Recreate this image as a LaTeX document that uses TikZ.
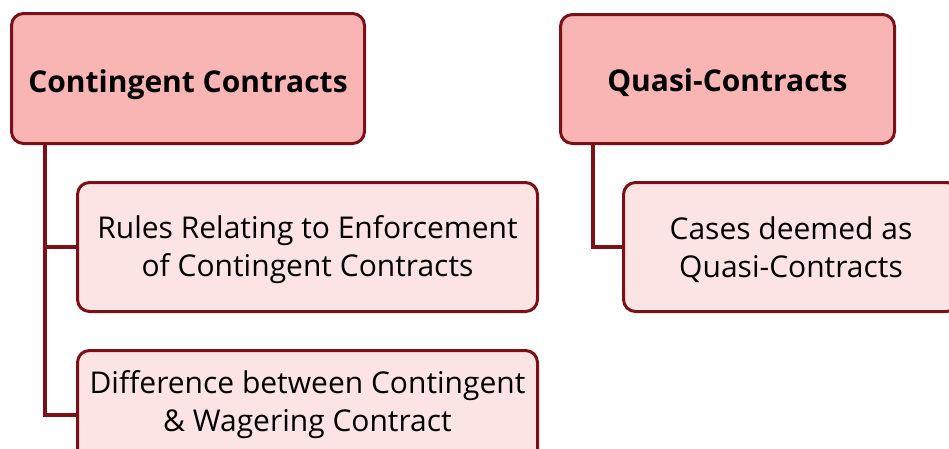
\documentclass[tikz,border=0pt]{standalone}
\usepackage{fontspec}
\setmainfont{Open Sans}
\usetikzlibrary{backgrounds}
\definecolor{bordercol}{HTML}{7A1018}
\definecolor{headfill}{HTML}{F9B4B4}
\definecolor{childfill}{HTML}{FDE4E4}
\tikzset{
  headbox/.style={draw=bordercol, fill=headfill, line width=3pt, rounded corners=12pt, inner sep=0pt},
  childbox/.style={draw=bordercol, fill=childfill, line width=3pt, rounded corners=12pt, inner sep=0pt},
  headtext/.style={inner sep=0pt, anchor=base, font=\fontsize{30}{38.5}\selectfont\bfseries},
  childtext/.style={inner sep=0pt, align=center, font=\fontsize{30}{38.5}\selectfont},
  conn/.style={draw=bordercol, line width=4pt}
}
\begin{document}
\begin{tikzpicture}[x=1pt, y=-1pt]
\useasboundingbox (0,0) rectangle (949,448);
\clip (0,0) rectangle (949,448);
% boxes
\node[headbox, minimum width=353pt, minimum height=130pt] (t1) at (188,78.5) {};
\node[headbox, minimum width=334pt, minimum height=129pt] (t2) at (727.5,79) {};
\node[childbox, minimum width=460pt, minimum height=129pt] (c1) at (307.5,247) {};
\node[childbox, minimum width=460pt, minimum height=129pt] (c2) at (307.5,415) {};
\node[childbox, minimum width=335pt, minimum height=129pt] (c3) at (791,247) {};
% texts
\node[headtext, yshift=-13.5pt] (t1t) at (t1.center) {Contingent Contracts};
\node[headtext, yshift=-12.5pt] (t2t) at (t2.center) {Quasi-Contracts};
\node[childtext, yshift=-2.5pt] (c1t) at (c1.center) {Rules Relating to Enforcement\\of Contingent Contracts};
\node[childtext, yshift=10.5pt] (c2t) at (c2.center) {Difference between Contingent\\\& Wagering Contract};
\node[childtext, yshift=-2.5pt] (c3t) at (c3.center) {Cases deemed as\\Quasi-Contracts};
% connectors
\begin{scope}[on background layer]
\draw[conn] ([xshift=34.5pt]t1.south west) |- (c1.west);
\draw[conn] ([xshift=34.5pt]t1.south west) |- (c2.west);
\draw[conn] ([xshift=33.5pt]t2.south west) |- (c3.west);
\end{scope}
\end{tikzpicture}
\end{document}
